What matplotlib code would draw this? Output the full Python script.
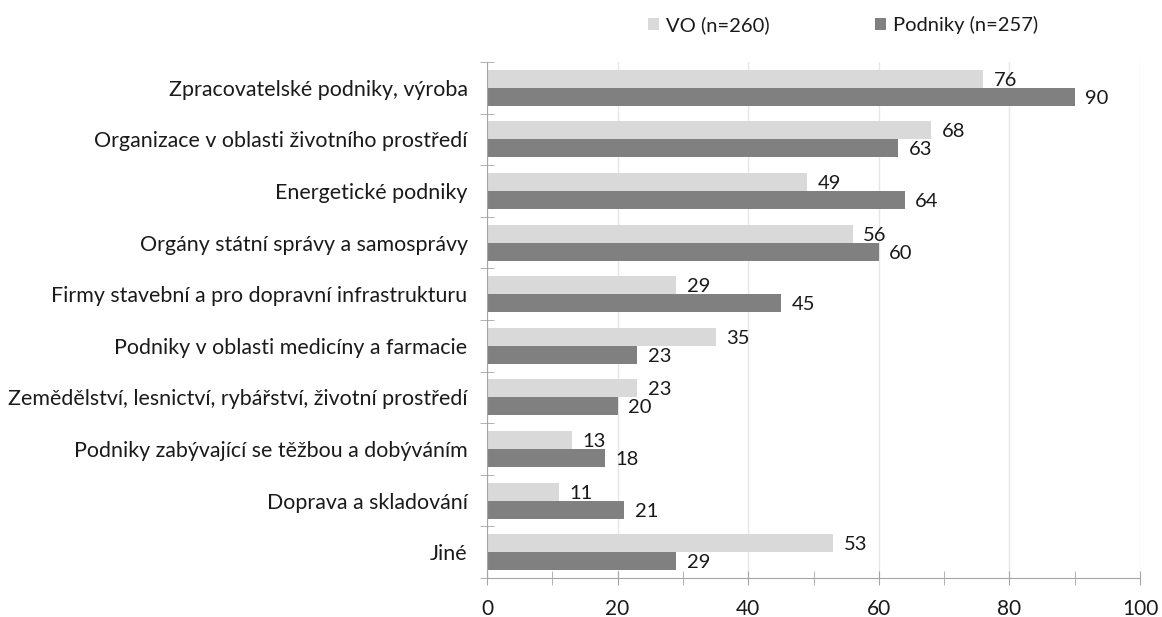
import matplotlib.pyplot as plt
import numpy as np

categories = [
    "Zpracovatelské podniky, výroba",
    "Organizace v oblasti životního prostředí",
    "Energetické podniky",
    "Orgány státní správy a samosprávy",
    "Firmy stavební a pro dopravní infrastrukturu",
    "Podniky v oblasti medicíny a farmacie",
    "Zemědělství, lesnictví, rybářství, životní prostředí",
    "Podniky zabývající se těžbou a dobýváním",
    "Doprava a skladování",
    "Jiné",
]
vo = [76, 68, 49, 56, 29, 35, 23, 13, 11, 53]
podniky = [90, 63, 64, 60, 45, 23, 20, 18, 21, 29]
series_names = ["VO (n=260)", "Podniky (n=257)"]

plt.rcParams['font.family'] = ['Lato', 'DejaVu Sans']
plt.rcParams['text.color'] = '#1a1a1a'

fig = plt.figure(figsize=(11.62, 6.17), dpi=100)
ax = fig.add_axes([487 / 1162, 1 - 578 / 617, (1140 - 487) / 1162, (578 - 62) / 617])

y = np.arange(len(categories))
h = 0.35
b1 = ax.barh(y - h / 2, vo, height=h, color="#d9d9d9", label=series_names[0], zorder=2)
b2 = ax.barh(y + h / 2, podniky, height=h, color="#808080", label=series_names[1], zorder=2)

for bars, vals in ((b1, vo), (b2, podniky)):
    for rect, v in zip(bars, vals):
        ax.text(v + 1.6, rect.get_y() + rect.get_height() / 2 + 0.03, str(v),
                va="center", ha="left", fontsize=14.5)

ax.set_ylim(len(categories) - 0.5, -0.5)
ax.set_xlim(0, 100)
ax.set_yticks(y)
ax.set_yticklabels(categories, fontsize=15.4)
ax.set_yticks(np.arange(-0.5, len(categories), 1), minor=True)
ax.set_xticks(np.arange(0, 101, 20))
ax.set_xticks(np.arange(0, 101, 10), minor=True)
ax.tick_params(axis="y", which="major", length=0, pad=14, labelcolor="#1a1a1a")
ax.tick_params(axis="y", which="minor", length=10, direction="inout", color="#a6a6a6")
ax.tick_params(axis="x", which="both", length=10, direction="inout", color="#a6a6a6",
               labelsize=15, pad=10, labelcolor="#1a1a1a")
ax.xaxis.grid(True, which="major", color="#e6e6e6", linewidth=1, zorder=0)
ax.set_axisbelow(True)

for s in ("top", "right"):
    ax.spines[s].set_visible(False)
ax.spines["left"].set_color("#a6a6a6")
ax.spines["bottom"].set_color("#a6a6a6")

fig.legend(handles=[b1, b2], loc="center", bbox_to_anchor=(843 / 1162, 1 - 25 / 617),
           ncol=2, frameon=False, fontsize=14.5, handlelength=0.55, handleheight=0.55,
           handletextpad=0.35, columnspacing=5.2)

fig.savefig("out.png", dpi=100)
